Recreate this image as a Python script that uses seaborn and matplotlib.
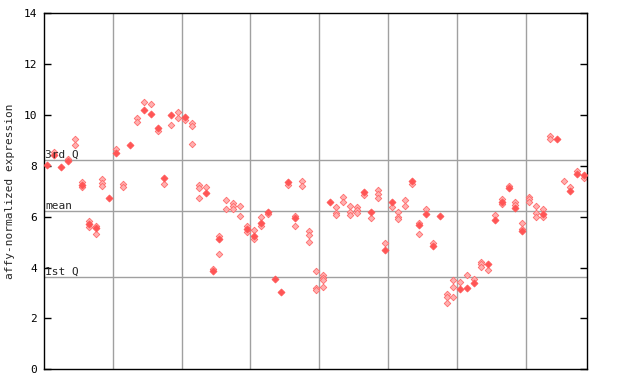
import numpy as np
import pandas as pd
import seaborn as sns
import matplotlib
matplotlib.use("Agg")
import matplotlib.pyplot as plt

# one value per sample column (nan = no solid marker in that column)
filled = [8.05, 8.41, 7.97, 8.18, np.nan, 7.25, 5.71, 5.55, np.nan, 6.75,
          8.52, np.nan, 8.83, np.nan, 10.2, 10.05, 9.5, 7.54, 10.01, np.nan,
          9.91, np.nan, np.nan, 6.95, 3.87, 5.12, np.nan, np.nan, np.nan, 5.5,
          5.23, 5.74, 6.2, 3.56, 3.05, 7.37, 5.95, np.nan, np.nan, np.nan,
          np.nan, 6.59, np.nan, np.nan, np.nan, np.nan, 6.96, 6.19, np.nan, 4.71,
          6.59, np.nan, np.nan, 7.4, 5.66, 6.12, 4.86, 6.04, np.nan, np.nan,
          3.17, 3.2, 3.41, np.nan, 4.14, 5.89, 6.58, 7.12, 6.33, 5.42,
          np.nan, np.nan, 6.1, np.nan, 9.04, np.nan, 7.03, 7.7, 7.65]

# the lighter (dithered) replicate markers per column
others = [[], [8.53], [], [8.26], [9.05, 8.81], [7.35, 7.15], [5.83, 5.58],
          [5.65, 5.31], [7.47, 7.31, 7.2], [], [8.65], [7.27, 7.17], [],
          [9.88, 9.73], [10.51], [10.42], [9.37], [7.27], [9.59], [10.1, 9.87],
          [9.79], [9.67, 9.58, 8.85], [7.25, 7.12, 6.72], [7.15], [3.95],
          [5.23, 4.52], [6.65, 6.29], [6.53, 6.42, 6.32], [6.41, 6.02],
          [5.62, 5.38], [5.48, 5.14], [6.0, 5.65], [6.1], [], [], [7.24],
          [6.04, 5.62], [7.42, 7.21], [5.42, 5.28, 5.0], [3.87, 3.2, 3.12],
          [3.71, 3.6, 3.52, 3.22], [], [6.37, 6.16, 6.05], [6.78, 6.56],
          [6.42, 6.17, 6.07], [6.38, 6.27, 6.15], [6.85], [5.94],
          [7.05, 6.9, 6.72], [4.97], [6.4], [6.2, 6.0, 5.9], [6.65, 6.41],
          [7.28], [5.77, 5.31], [6.29], [4.98], [], [2.95, 2.85, 2.6],
          [3.51, 3.23, 2.83], [3.42], [3.7], [3.55], [4.23, 4.13, 4.03], [3.9],
          [6.05], [6.68, 6.5], [7.22], [6.59, 6.46], [5.74, 5.5],
          [6.78, 6.68, 6.59], [6.41, 6.13, 5.98], [6.29, 5.98], [9.16, 9.04],
          [], [7.4], [7.17], [7.8], [7.54]]

q_labels = ["3rd Q", "mean", "1st Q"]
q_values = [8.23, 6.21, 3.62]
y_ticks = [0, 2, 4, 6, 8, 10, 12, 14]

# long tables for seaborn
solid = pd.DataFrame({"sample": np.arange(len(filled)), "value": filled}).dropna()
rows = [(i, v) for i, vals in enumerate(others) for v in vals]
light = pd.DataFrame(rows, columns=["sample", "value"])

sns.set_style("white")
plt.rcParams["font.family"] = ["DejaVu Sans Mono"]

fig = plt.figure(figsize=(6.4, 3.84), dpi=100)
ax = fig.add_axes([44 / 640, 1 - 369.3 / 384, 543 / 640, 356 / 384])

# grid: vertical every 10 samples, horizontal at quartiles
for gx in np.arange(9.5, len(filled), 10):
    ax.axvline(gx, color="#a0a0a0", lw=1, zorder=1)
for lab, qv in zip(q_labels, q_values):
    ax.axhline(qv, color="#a0a0a0", lw=1, zorder=1)
    ax.text(-0.35, qv + 0.02, lab, fontsize=8, va="bottom", ha="left", zorder=4)

sns.scatterplot(data=light, x="sample", y="value", marker="D", s=11,
                color="#ffb0b0", edgecolor="#ff6a6a", linewidth=0.6, ax=ax, zorder=2)
sns.scatterplot(data=solid, x="sample", y="value", marker="D", s=13,
                color="#ff5555", edgecolor="#ff5555", linewidth=0.5, ax=ax, zorder=3)

ax.set_xlim(-0.5, 78.4)
ax.set_ylim(0, 14)
ax.set_yticks(y_ticks)
ax.set_xticks([])
ax.set_xlabel("")
ax.set_ylabel("affy-normalized expression", fontsize=8, labelpad=6)
ax.tick_params(axis="y", direction="in", length=5, width=1, labelsize=8,
               right=True, left=True, pad=5, colors="black")
for sp in ax.spines.values():
    sp.set_color("black")
    sp.set_linewidth(1)

fig.savefig("out.png", dpi=100)
